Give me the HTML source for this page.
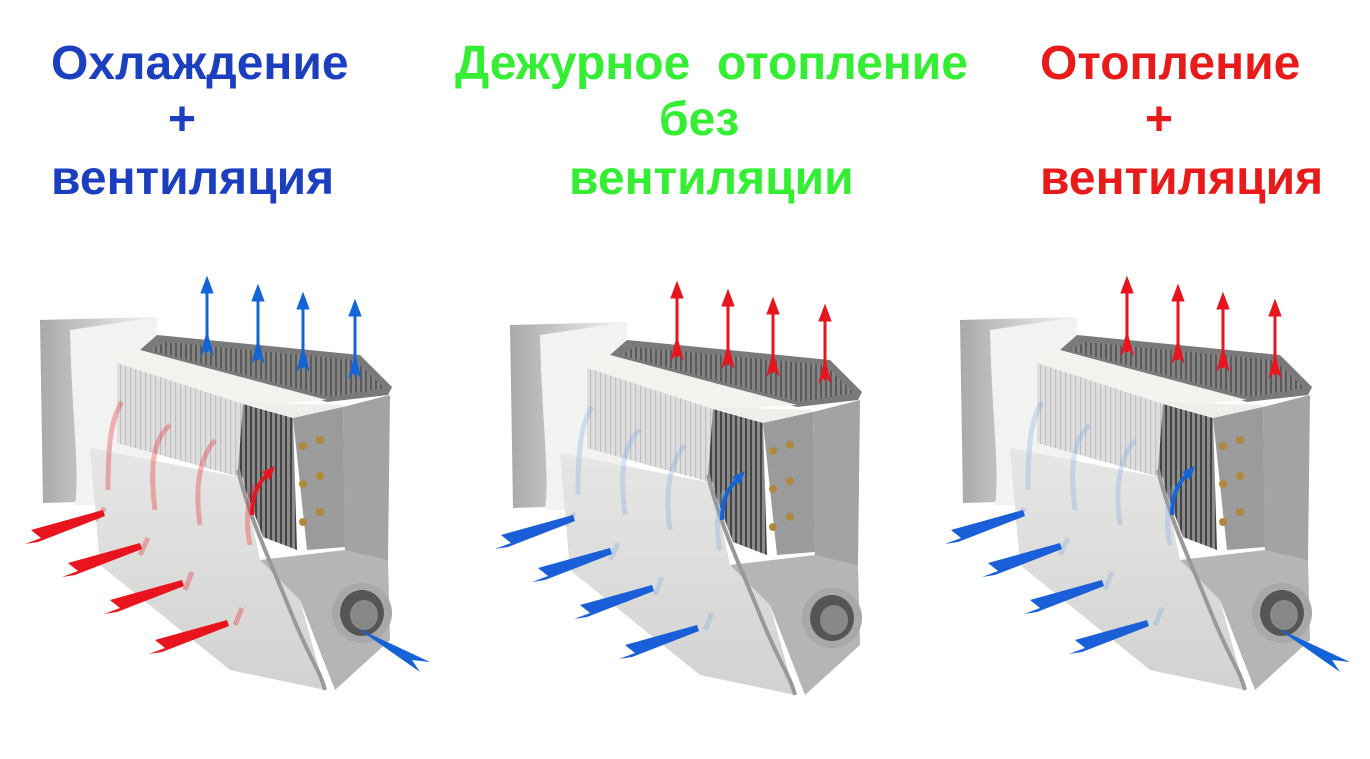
<!DOCTYPE html>
<html><head><meta charset="utf-8"><style>
html,body{margin:0;padding:0;background:#fff;width:1370px;height:759px;overflow:hidden}
.t{position:absolute;font-family:"Liberation Sans",sans-serif;font-weight:bold;font-size:48px;line-height:1;white-space:pre}
</style></head><body>
<div class="t" style="left:51px;top:40px;color:#1b3fbf">Охлаждение</div>
<div class="t" style="left:168px;top:96px;color:#1b3fbf">+</div>
<div class="t" style="left:51px;top:155px;color:#1b3fbf">вентиляция</div>
<div class="t" style="left:455px;top:40px;color:#33ee33">Дежурное  отопление</div>
<div class="t" style="left:659px;top:96px;color:#33ee33">без</div>
<div class="t" style="left:569px;top:155px;color:#33ee33">вентиляции</div>
<div class="t" style="left:1040px;top:40px;color:#e81a1a">Отопление</div>
<div class="t" style="left:1145px;top:96px;color:#e81a1a">+</div>
<div class="t" style="left:1040px;top:155px;color:#e81a1a">вентиляция</div>
<svg width="1370" height="759" style="position:absolute;left:0;top:0">
<defs>
<linearGradient id="blk" x1="0" x2="1"><stop offset="0" stop-color="#a9a9a9"/><stop offset="0.5" stop-color="#cfcfcf"/><stop offset="1" stop-color="#f4f4f4"/></linearGradient>
<linearGradient id="frt" x1="0" y1="0" x2="0" y2="1"><stop offset="0" stop-color="#e6e6e4"/><stop offset="1" stop-color="#d2d2d0"/></linearGradient>
<pattern id="fin" width="5" height="10" patternUnits="userSpaceOnUse"><rect width="5" height="10" fill="#dedede"/><rect width="1.2" height="10" fill="#c0c0c0"/></pattern>
<pattern id="dfin" width="5" height="10" patternUnits="userSpaceOnUse"><rect width="5" height="10" fill="#8a8a8a"/><rect width="2" height="10" fill="#444"/></pattern>
<g id="body">
<polygon points="40,320 157,317 150,500 43,503" fill="url(#blk)"/>
<path d="M70,330 L157,317 L150,505 L75,505 C80,470 72,420 70,330Z" fill="#f2f2f0"/>
<polygon points="157,335 360,355 392,387 388,395 327,402 140,350" fill="#7a7a7a"/>
<polygon points="165,342 355,360 384,388 330,397 150,350" fill="url(#dfin)" opacity="0.6"/>
<polygon points="110,350 140,350 327,400 243,406 117,363" fill="#f2f2ee"/>
<polygon points="117,363 243,404 243,478 117,443" fill="url(#fin)"/>
<polygon points="243,404 293,418 297,550 263,537 238,470" fill="url(#dfin)"/>
<polygon points="243,402 343,405 340,420 293,418" fill="#eeeeea"/>
<polygon points="293,418 343,407 345,547 307,550" fill="#9b9b9b"/>
<polygon points="343,407 390,395 388,560 345,560" fill="#a3a3a3"/>
<polygon points="90,448 243,478 260,560 300,600 325,690 230,670 100,565" fill="url(#frt)"/>
<polygon points="260,560 345,550 388,560 390,640 335,690 300,600" fill="#b5b5b5"/>
<path d="M238,470 C250,520 270,560 290,610 S320,670 325,690" stroke="#999" stroke-width="4" fill="none"/>
<ellipse cx="362" cy="613" rx="30" ry="30" fill="#a8a8a8"/>
<ellipse cx="362" cy="613" rx="22" ry="23" fill="#555"/>
<ellipse cx="364" cy="615" rx="14" ry="15" fill="#888"/>
<g fill="#b08a3a"><circle cx="303" cy="446" r="4"/><circle cx="320" cy="440" r="4"/><circle cx="303" cy="484" r="4"/><circle cx="320" cy="476" r="4"/><circle cx="303" cy="522" r="4"/><circle cx="320" cy="512" r="4"/></g>
</g>
<g id="up"><line x1="0" y1="10" x2="0" y2="75" stroke-width="3"/><polygon points="0,0 -6,16 6,16"/><polygon points="0,55 -6,78 0,70 6,78"/></g>
<g id="side"><polygon points="70,-20 -2,0 8,8 -8,14 5,12 72,-14"/></g>
<g id="faint" fill="none" stroke-width="5" opacity="0.3">
<path d="M108,490 C108,450 110,420 122,402"/><path d="M155,510 C150,470 152,440 170,425"/><path d="M200,525 C195,490 198,460 215,440"/>
<path d="M95,520 L105,508"/><path d="M140,555 L148,538"/><path d="M185,590 L192,572"/><path d="M235,625 L242,608"/>
<path d="M250,545 C245,520 248,498 255,485"/>
</g>
</defs>

<use href="#body"/>
<g stroke="#e8141e"><use href="#faint"/></g>
<path d="M252,515 C252,495 258,482 270,472" stroke="#e8141e" stroke-width="4" fill="none"/><polygon points="275,466 262,472 270,480" fill="#e8141e"/>
<g fill="#1464d8" stroke="#1464d8">
<use href="#up" transform="translate(207,277)"/><use href="#up" transform="translate(258,285)"/><use href="#up" transform="translate(303,293)"/><use href="#up" transform="translate(355,300)"/>
</g>
<g fill="#e8141e"><use href="#side" transform="translate(33,530)"/><use href="#side" transform="translate(70,563)"/><use href="#side" transform="translate(112,600)"/><use href="#side" transform="translate(157,640)"/></g>
<polygon points="357,628 430,662 412,660 420,672" fill="#1464d8"/>

<g transform="translate(470,5)">
<use href="#body"/>
<g stroke="#7aa8e6"><use href="#faint"/></g>
<path d="M252,515 C252,495 258,482 270,472" stroke="#1464d8" stroke-width="4" fill="none"/><polygon points="275,466 262,472 270,480" fill="#1464d8"/>
<g fill="#e8141e" stroke="#e8141e">
<use href="#up" transform="translate(207,277)"/><use href="#up" transform="translate(258,285)"/><use href="#up" transform="translate(303,293)"/><use href="#up" transform="translate(355,300)"/>
</g>
<g fill="#1a5fd8"><use href="#side" transform="translate(33,530)"/><use href="#side" transform="translate(70,563)"/><use href="#side" transform="translate(112,600)"/><use href="#side" transform="translate(157,640)"/></g>
</g>

<g transform="translate(920,0)">
<use href="#body"/>
<g stroke="#7aa8e6"><use href="#faint"/></g>
<path d="M252,515 C252,495 258,482 270,472" stroke="#1464d8" stroke-width="4" fill="none"/><polygon points="275,466 262,472 270,480" fill="#1464d8"/>
<g fill="#e8141e" stroke="#e8141e">
<use href="#up" transform="translate(207,277)"/><use href="#up" transform="translate(258,285)"/><use href="#up" transform="translate(303,293)"/><use href="#up" transform="translate(355,300)"/>
</g>
<g fill="#1a5fd8"><use href="#side" transform="translate(33,530)"/><use href="#side" transform="translate(70,563)"/><use href="#side" transform="translate(112,600)"/><use href="#side" transform="translate(157,640)"/></g>
<polygon points="357,628 430,662 412,660 420,672" fill="#1464d8"/>
</g>
</svg>
</body></html>
